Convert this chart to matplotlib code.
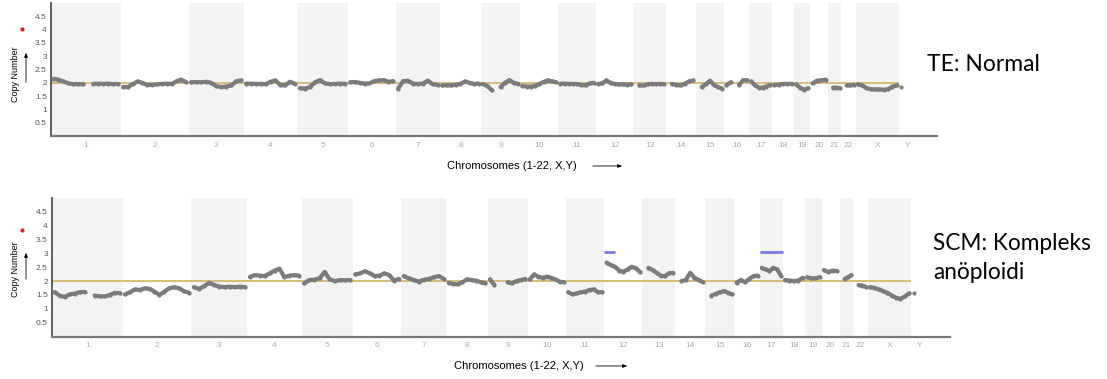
import matplotlib.pyplot as plt
from matplotlib.lines import Line2D
import numpy as np

nan = np.nan

chrom_names = ["1", "2", "3", "4", "5", "6", "7", "8", "9", "10", "11", "12",
               "13", "14", "15", "16", "17", "18", "19", "20", "21", "22", "X", "Y"]
chrom_len_mb = [249, 243, 198, 191, 181, 171, 159, 146, 141, 136, 135, 134,
                115, 107, 103, 90, 81, 78, 59, 63, 48, 51, 155, 59]

# copy number along each chromosome, TE biopsy (normal)
te_cn = [
    [2.15, 2.12, 2.05, 1.98, 1.95, 1.95, 1.94, nan, 1.96, 1.97, 1.96, 1.97, 1.95, 1.96],
    [1.84, 1.84, 1.95, 2.05, 2.0, 1.92, 1.92, 1.94, 1.96, 1.97, 1.96, 2.05, 2.12, 2.03],
    [2.02, 2.03, 2.02, 2.04, 2.0, 1.88, 1.84, 1.86, 1.9, 2.06, 2.09],
    [1.97, 1.97, 1.96, 1.96, 1.95, 2.04, 2.09, 1.92, 1.9, 2.04, 1.96],
    [1.8, 1.78, 1.84, 2.02, 2.1, 1.98, 1.95, 1.96, 1.97, 1.96],
    [2.02, 2.03, 2.0, 1.97, 1.98, 2.06, 2.09, 2.1, 2.04, 2.06],
    [1.78, 2.06, 2.08, 1.97, 1.96, 1.97, 2.08, 1.95, 1.92],
    [1.9, 1.91, 1.9, 1.93, 1.96, 2.05, 2.0, 1.96, 1.97],
    [1.95, 1.88, 1.72, nan, 1.84, 2.0, 2.1, 2.0, 1.96],
    [1.88, 1.86, 1.86, 1.88, 1.96, 2.03, 2.09, 2.06, 2.02],
    [1.97, 1.97, 1.96, 1.96, 1.95, 1.92, 1.9, 1.98, 2.0],
    [1.96, 1.98, 2.09, 2.0, 1.96, 1.94, 1.94, 1.93, 1.94],
    [nan, 1.9, 1.9, 1.94, 1.96, 1.95, 1.96, 1.95],
    [nan, 1.96, 1.92, 1.9, 1.97, 2.05, 2.09],
    [nan, 1.84, 1.95, 2.08, 1.92, 1.84, 1.78],
    [1.9, 2.02, nan, 1.92, 2.1, 2.1],
    [2.05, 1.9, 1.82, 1.82, 1.86, 1.92],
    [1.92, 1.93, 1.96, 1.96, 1.96],
    [1.94, 1.82, 1.74, 1.8],
    [1.98, 2.08, 2.09, 2.12],
    [nan, 1.82, 1.82, 1.8],
    [nan, 1.9, 1.9, 1.92],
    [1.94, 1.9, 1.8, 1.76, 1.75, 1.75, 1.74, 1.76, 1.86, 1.9],
    [1.84, nan, nan, nan],
]

# copy number along each chromosome, SCM (complex aneuploid)
scm_cn = [
    [1.6, 1.48, 1.43, 1.52, 1.55, 1.6, 1.61, nan, 1.48, 1.45, 1.45, 1.5, 1.58, 1.56],
    [1.52, 1.6, 1.7, 1.68, 1.74, 1.72, 1.62, 1.5, 1.62, 1.74, 1.78, 1.74, 1.64, 1.58],
    [1.78, 1.72, 1.82, 1.94, 1.86, 1.8, 1.78, 1.8, 1.78, 1.8, 1.78],
    [2.15, 2.22, 2.2, 2.18, 2.28, 2.38, 2.45, 2.14, 2.2, 2.22, 2.2],
    [1.92, 2.04, 2.05, 2.1, 2.33, 2.06, 2.0, 2.04, 2.03, 2.04],
    [2.24, 2.28, 2.36, 2.28, 2.18, 2.2, 2.28, 2.22, 2.02, 2.08],
    [2.18, 2.1, 2.04, 1.98, 2.05, 2.08, 2.14, 2.18, 2.08],
    [1.94, 1.9, 1.88, 1.96, 2.06, 2.04, 2.02, 1.96, 1.92],
    [2.06, 1.86, nan, nan, 1.96, 1.92, 2.0, 2.04, 2.08],
    [2.06, 2.24, 2.16, 2.12, 2.16, 2.12, 2.06, 1.98, 1.96],
    [1.6, 1.52, 1.56, 1.6, 1.62, 1.68, 1.7, 1.6, 1.6],
    [2.67, 2.58, 2.52, 2.38, 2.34, 2.42, 2.52, 2.46, 2.32],
    [nan, 2.48, 2.4, 2.3, 2.2, 2.18, 2.28, 2.3],
    [nan, 2.0, 2.04, 2.3, 2.12, 2.04, 1.96],
    [nan, 1.48, 1.54, 1.6, 1.64, 1.58, 1.52],
    [1.94, 2.04, 1.96, 2.08, 2.18, 2.2],
    [2.48, 2.42, 2.36, 2.48, 2.42, 2.2],
    [2.04, 2.02, 2.0, 2.02, 2.12],
    [2.14, 2.1, 2.1, 2.14],
    [2.4, 2.33, 2.38, 2.36],
    [nan, 2.08, 2.14, 2.22],
    [nan, 1.86, 1.84, 1.8],
    [1.78, 1.76, 1.7, 1.64, 1.58, 1.48, 1.4, 1.36, 1.45, 1.56],
    [1.58, nan, nan, nan],
]

# called gain segments in the SCM sample
gain_chrom = ["12", "17"]
gain_start_mb = [0, 0]
gain_end_mb = [38, 81]
gain_cn = [3.05, 3.05]

y_ticks = [0.5, 1, 1.5, 2, 2.5, 3, 3.5, 4, 4.5]
normal_cn = 2

W, H = 1107, 379
chart_font = "Liberation Sans"
note_font = "Lato"


def fx(x):
    return x / W


def fy(y):
    return 1 - y / H


starts = np.concatenate([[0], np.cumsum(chrom_len_mb)[:-1]])
ref_end = starts[chrom_names.index("Y")]


def draw_panel(ax, cn, gains=False):
    for i, ln in enumerate(chrom_len_mb):
        if i % 2 == 0:
            ax.axvspan(starts[i], starts[i] + ln, color="#f3f3f3", lw=0, zorder=0)
    ax.hlines(normal_cn, 0, ref_end, color="#d6b96e", lw=1.3, zorder=2)
    for i, vals in enumerate(cn):
        n = len(vals)
        x = starts[i] + (np.arange(n) + 0.5) / n * chrom_len_mb[i]
        ax.plot(x, vals, color="#7b7b7b", lw=3.0, marker="o", ms=3.0, mew=0,
                solid_capstyle="round", solid_joinstyle="round", zorder=3)
    if gains:
        for c, s, e, v in zip(gain_chrom, gain_start_mb, gain_end_mb, gain_cn):
            k = chrom_names.index(c)
            ax.hlines(v, starts[k] + s, starts[k] + e, color="#7b7be6", lw=2.0, zorder=3)
    ax.set_xlim(0, 3170)
    ax.set_ylim(0, 5)
    centers = starts + np.array(chrom_len_mb) / 2
    ax.set_xticks(centers)
    ax.set_xticklabels(chrom_names, fontsize=6, color="#aaaaaa", family=chart_font)
    ax.set_yticks(y_ticks)
    ax.set_yticklabels([f"{t:g}" for t in y_ticks], fontsize=6, color="#555555",
                       family=chart_font)
    ax.tick_params(length=0, pad=3)
    ax.tick_params(axis="x", pad=4)
    for s in ["top", "right"]:
        ax.spines[s].set_visible(False)
    ax.spines["left"].set_color("#444444")
    ax.spines["left"].set_linewidth(1.2)
    ax.spines["bottom"].set_color("#777777")
    ax.spines["bottom"].set_linewidth(1.6)


def panel_labels(fig, y_text, y_arrow0, y_arrow1, y_dot, y_xlab, x_xlab, x_arr0, x_arr1):
    fig.text(fx(16), fy(y_text), "Copy Number", rotation=90, ha="center", va="center",
             fontsize=6.5, family=chart_font)
    fig.add_artist(plt.Annotation("", xy=(fx(26), fy(y_arrow1)), xytext=(fx(26), fy(y_arrow0)),
                                  xycoords="figure fraction", textcoords="figure fraction",
                                  arrowprops=dict(arrowstyle="-|>,head_length=0.25,head_width=0.1",
                                                  lw=0.6, color="black")))
    fig.add_artist(Line2D([fx(22)], [fy(y_dot)], marker="o", ms=3, color="#e02020",
                          mew=0, transform=fig.transFigure))
    fig.text(fx(x_xlab), fy(y_xlab), "Chromosomes (1-22, X,Y)", ha="left", va="center",
             fontsize=8, family=chart_font)
    fig.add_artist(plt.Annotation("", xy=(fx(x_arr1), fy(y_xlab)), xytext=(fx(x_arr0), fy(y_xlab)),
                                  xycoords="figure fraction", textcoords="figure fraction",
                                  arrowprops=dict(arrowstyle="-|>,head_length=0.25,head_width=0.1",
                                                  lw=0.6, color="black")))


fig = plt.figure(figsize=(W / 100, H / 100), dpi=100)

ax1 = fig.add_axes([fx(51), fy(136), fx(886), 133 / H])
draw_panel(ax1, te_cn)
ax2 = fig.add_axes([fx(52), fy(336.5), fx(898), 138.5 / H])
draw_panel(ax2, scm_cn, gains=True)

panel_labels(fig, 74, 85, 50, 29, 166, 447, 590, 625)
panel_labels(fig, 269, 282, 250, 230, 366, 454, 593, 630)

fig.text(fx(927), fy(71), "TE: Normal", ha="left", va="baseline", fontsize=16.5, family=note_font)
fig.text(fx(933), fy(250), "SCM: Kompleks", ha="left", va="baseline", fontsize=16.3, family=note_font)
fig.text(fx(933), fy(279), "anöploidi", ha="left", va="baseline", fontsize=16.3, family=note_font)

fig.savefig("out.png", dpi=100)
